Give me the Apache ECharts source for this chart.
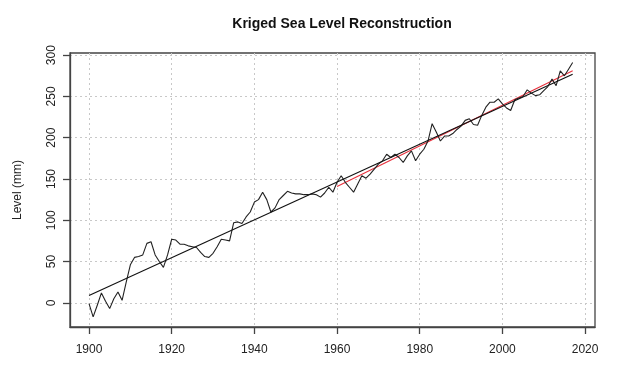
<!DOCTYPE html>
<html>
<head>
<meta charset="utf-8">
<script src="https://cdn.jsdelivr.net/npm/echarts@6/dist/echarts.min.js"></script>
<style>
html,body{margin:0;padding:0;background:#fff;}
#chart{width:640px;height:367px;}
</style>
</head>
<body>
<div id="chart"></div>
<script>
// Data
var startYear = 1900;
var levels = [
  -1,-17,-3,12,2,-7,5,13,3,25,
  46,55,56,58,72,74,58,50,43,58,
  77,76,71,71,69,68,67,61,56,55,
  60,68,77,76,75,97,98,96,104,110,
  122,125,134,125,110,115,125,130,135,133,
  132,132,131,131,132,131,128,133,140,134,
  146,154,146,140,134,144,154,151,156,162,
  168,172,180,176,180,176,170,178,184,172,
  180,186,196,217,207,196,202,202,205,210,
  214,221,223,216,215,227,237,243,243,247,
  241,236,233,246,248,250,258,254,251,252,
  257,262,271,263,281,275,283,291
];
var trendYears = [1900, 2017];
var trendLevels = [9, 277];
var recentTrendYears = [1960, 2017];
var recentTrendLevels = [141, 281];
var xTicks = [1900, 1920, 1940, 1960, 1980, 2000, 2020];
var yTicks = [0, 50, 100, 150, 200, 250, 300];

var levelData = levels.map(function (v, i) { return [startYear + i, v]; });
var trendData = trendYears.map(function (y, i) { return [y, trendLevels[i]]; });
var recentData = recentTrendYears.map(function (y, i) { return [y, recentTrendLevels[i]]; });

var font = 'Liberation Sans, Arial, sans-serif';
var chart = echarts.init(document.getElementById('chart'), null, {renderer: 'canvas'});
chart.setOption({
  animation: false,
  backgroundColor: '#fff',
  title: {
    text: 'Kriged Sea Level Reconstruction',
    left: 337, top: 12, textAlign: 'center',
    textStyle: {fontFamily: font, fontSize: 14, fontWeight: 'bold', color: '#111'}
  },
  grid: {
    left: 70, right: 45, top: 53, bottom: 40,
    show: true, borderColor: '#444', borderWidth: 1.3, backgroundColor: 'transparent'
  },
  xAxis: {
    type: 'value', min: 1895.4, max: 2022.4,
    axisLine: {show: true, onZero: false, lineStyle: {color: '#444', width: 1.3}},
    axisTick: {show: true, length: 7, customValues: xTicks, lineStyle: {color: '#444', width: 1.3}},
    axisLabel: {customValues: xTicks, margin: 17, fontFamily: font, fontSize: 12, color: '#222',
      formatter: function (v) { return String(v); }},
    splitLine: {show: true, lineStyle: {color: '#c8c8c8', type: [2, 3], width: 1}}
  },
  yAxis: {
    type: 'value', min: -29.3, max: 302.6,
    name: 'Level (mm)', nameLocation: 'middle', nameGap: 46,
    nameTextStyle: {fontFamily: font, fontSize: 12, color: '#222'},
    axisLine: {show: true, onZero: false, lineStyle: {color: '#444', width: 1.3}},
    axisTick: {show: true, length: 7, customValues: yTicks, lineStyle: {color: '#444', width: 1.3}},
    axisLabel: {customValues: yTicks, rotate: 90, margin: 12, fontFamily: font, fontSize: 12, color: '#222'},
    splitLine: {show: true, lineStyle: {color: '#c8c8c8', type: [2, 3], width: 1}}
  },
  series: [
    {type: 'line', data: levelData, symbol: 'none', lineStyle: {color: '#222', width: 1.1}, z: 3},
    {type: 'line', data: trendData, symbol: 'none', lineStyle: {color: '#111', width: 1.1}, z: 4},
    {type: 'line', data: recentData, symbol: 'none', lineStyle: {color: '#e8303c', width: 1.1}, z: 2}
  ]
});
</script>
</body>
</html>
